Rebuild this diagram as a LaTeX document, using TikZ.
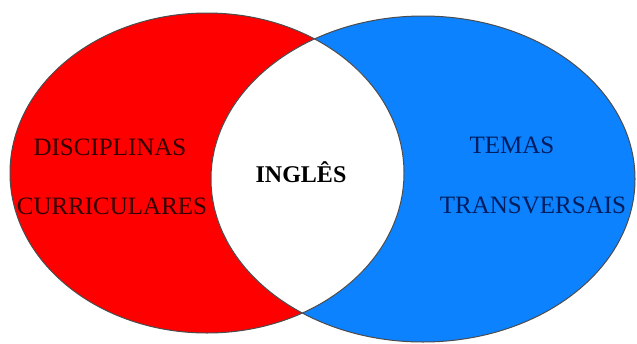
\documentclass[tikz,border=0pt]{standalone}
\usepackage{fontspec}
\setmainfont{Liberation Serif}
\definecolor{vermelho}{RGB}{255,0,0}
\definecolor{azul}{RGB}{12,130,255}
\definecolor{grena}{RGB}{50,0,0}
\definecolor{marinho}{RGB}{0,30,95}
\begin{document}
\begin{tikzpicture}[x=1pt, y=-1pt,
    rotulo/.style={font=\fontsize{25}{29}\selectfont, inner sep=0pt, anchor=base},
    borda/.style={draw=gray!60!black, line width=1pt}]
  \useasboundingbox (0,0) rectangle (637,343);
  \fill[vermelho] (207,173) ellipse [x radius=197, y radius=160];
  \fill[azul] (423,179) ellipse [x radius=212, y radius=163];
  \begin{scope}
    \clip (207,173) ellipse [x radius=197, y radius=160];
    \fill[white] (423,179) ellipse [x radius=212, y radius=163];
  \end{scope}
  \draw[borda] (207,173) ellipse [x radius=197, y radius=160];
  \draw[borda] (423,179) ellipse [x radius=212, y radius=163];
  \node[rotulo, text=grena] (disc) at (110,155) {DISCIPLINAS};
  \node[rotulo, text=grena] (curr) at (112,214) {CURRICULARES};
  \node[rotulo, font=\fontsize{24}{28}\selectfont\bfseries] (ingl) at (301,182) {INGLÊS};
  \node[rotulo, text=marinho] (temas) at (512,153) {TEMAS};
  \node[rotulo, text=marinho] (trans) at (533,213) {TRANSVERSAIS};
\end{tikzpicture}
\end{document}
